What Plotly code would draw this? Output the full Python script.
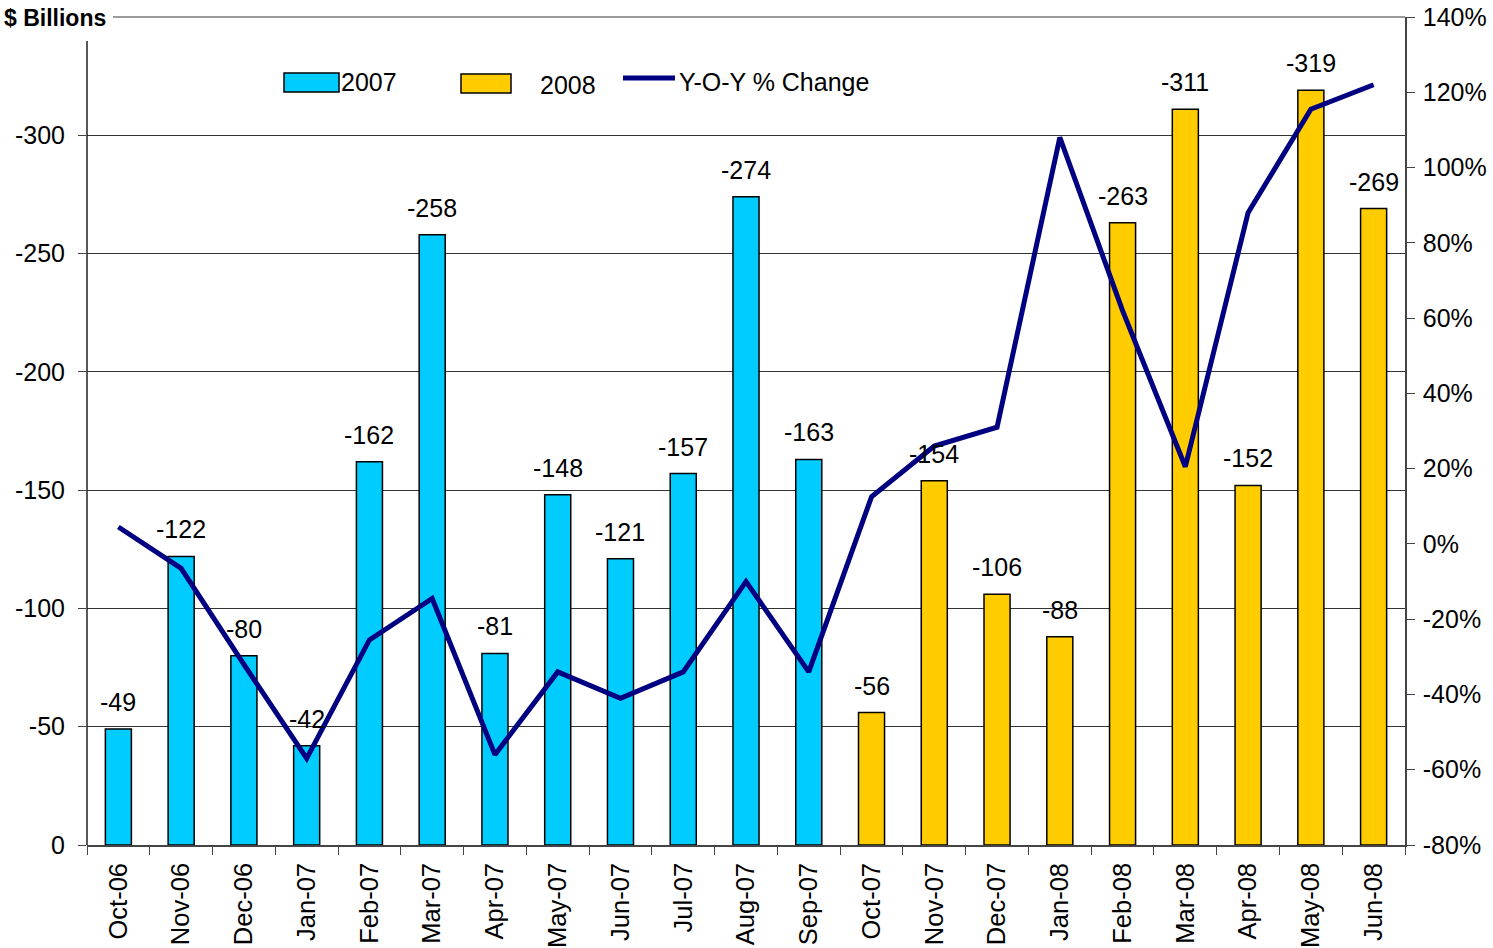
import plotly.graph_objects as go

months = ["Oct-06", "Nov-06", "Dec-06", "Jan-07", "Feb-07", "Mar-07", "Apr-07",
          "May-07", "Jun-07", "Jul-07", "Aug-07", "Sep-07", "Oct-07", "Nov-07",
          "Dec-07", "Jan-08", "Feb-08", "Mar-08", "Apr-08", "May-08", "Jun-08"]
vals_2007 = [-49, -122, -80, -42, -162, -258, -81, -148, -121, -157, -274, -163,
             None, None, None, None, None, None, None, None, None]
vals_2008 = [None] * 12 + [-56, -154, -106, -88, -263, -311, -152, -319, -269]
yoy_pct = [4.5, -6.5, -32, -57, -25.5, -14.5, -56, -34, -41, -34, -10, -34,
           12.5, 26, 31, 108, 62, 20.5, 88, 115.5, 122]

left_ticks = [0, -50, -100, -150, -200, -250, -300]
right_ticks = list(range(-80, 141, 20))

FONT = "Liberation Sans, Arial, sans-serif"
FS = 25

W, H = 1493, 948
# plot area in page pixels
L, R, T, B = 87, 1405, 17, 845
def px(x):
    return (x - L) / (R - L)
def py(y):
    return (B - y) / (B - T)

fig = go.Figure()
fig.add_trace(go.Bar(
    x=months, y=vals_2007, name="2007",
    marker=dict(color="#00CCFF", line=dict(color="black", width=1.5)),
))
fig.add_trace(go.Bar(
    x=months, y=vals_2008, name="2008",
    marker=dict(color="#FFCC00", line=dict(color="black", width=1.5)),
))
fig.add_trace(go.Scatter(
    x=months, y=yoy_pct, name="Y-O-Y % Change", yaxis="y2",
    mode="lines", line=dict(color="#000080", width=5),
))

shapes = [
    dict(type="line", xref="paper", yref="paper", x0=px(113), x1=1, y0=1, y1=1,
         line=dict(color="#777", width=1.5)),
    dict(type="line", xref="paper", yref="paper", x0=0, x1=0, y0=0, y1=py(41),
         line=dict(color="#222", width=1.5)),
    # legend swatches
    dict(type="rect", xref="paper", yref="paper", x0=px(284), x1=px(339),
         y0=py(92), y1=py(73), fillcolor="#00CCFF", line=dict(color="black", width=1.5)),
    dict(type="rect", xref="paper", yref="paper", x0=px(461), x1=px(511),
         y0=py(93), y1=py(74), fillcolor="#FFCC00", line=dict(color="black", width=1.5)),
    dict(type="line", xref="paper", yref="paper", x0=px(623), x1=px(675),
         y0=py(78), y1=py(78), line=dict(color="#000080", width=5)),
]

annotations = [
    dict(text="<b>$ Billions</b>", xref="paper", yref="paper",
         x=px(2), y=py(18), xanchor="left", yanchor="middle",
         showarrow=False, font=dict(size=23, family=FONT)),
    dict(text="2007", xref="paper", yref="paper", x=px(339), y=py(82),
         xanchor="left", yanchor="middle", showarrow=False,
         font=dict(size=FS, family=FONT)),
    dict(text="2008", xref="paper", yref="paper", x=px(538), y=py(85),
         xanchor="left", yanchor="middle", showarrow=False,
         font=dict(size=FS, family=FONT)),
    dict(text="Y-O-Y % Change", xref="paper", yref="paper", x=px(677), y=py(82),
         xanchor="left", yanchor="middle", showarrow=False,
         font=dict(size=FS, family=FONT)),
]

# bar value labels
for series in (vals_2007, vals_2008):
    for m, v in zip(months, series):
        if v is None:
            continue
        annotations.append(dict(
            text=str(v), x=m, y=v, xref="x", yref="y",
            xanchor="center", yanchor="middle", yshift=27,
            showarrow=False, font=dict(size=FS, family=FONT, color="black"),
        ))

fig.update_layout(
    width=W, height=H,
    margin=dict(l=L, r=W - R, t=T, b=H - B, autoexpand=False),
    paper_bgcolor="white", plot_bgcolor="white",
    barmode="overlay", bargap=0.585,
    font=dict(family=FONT, size=FS, color="black"),
    showlegend=False,
    xaxis=dict(
        type="category", tickangle=-90, tickson="boundaries", automargin=False,
        ticks="outside", ticklen=8, tickcolor="#444", ticklabelstandoff=6,
        showline=True, linecolor="#444", linewidth=1.5,
        showgrid=False, tickfont=dict(size=25.5, family=FONT),
    ),
    yaxis=dict(
        range=[0, -350], tickvals=left_ticks, ticktext=[str(t) for t in left_ticks],
        ticks="outside", ticklen=8, tickcolor="#444", automargin=False,
        ticklabelstandoff=8,
        showgrid=True, gridcolor="#333", gridwidth=1,
        zeroline=False, showline=False, ticklabeloverflow="allow",
        tickfont=dict(size=FS, family=FONT),
    ),
    yaxis2=dict(
        overlaying="y", side="right", range=[-80, 140], automargin=False,
        tickvals=right_ticks, ticktext=[f"{t}%" for t in right_ticks],
        ticks="outside", ticklen=8, tickcolor="#444", ticklabelstandoff=3,
        showgrid=False, zeroline=False, ticklabeloverflow="allow",
        showline=True, linecolor="#444", linewidth=1.5,
        tickfont=dict(size=FS, family=FONT),
    ),
    shapes=shapes,
    annotations=annotations,
)

fig.write_html(
    "out.html",
    config={"displayModeBar": False},
    post_script="document.body.style.margin='0';document.body.style.padding='0';",
)
